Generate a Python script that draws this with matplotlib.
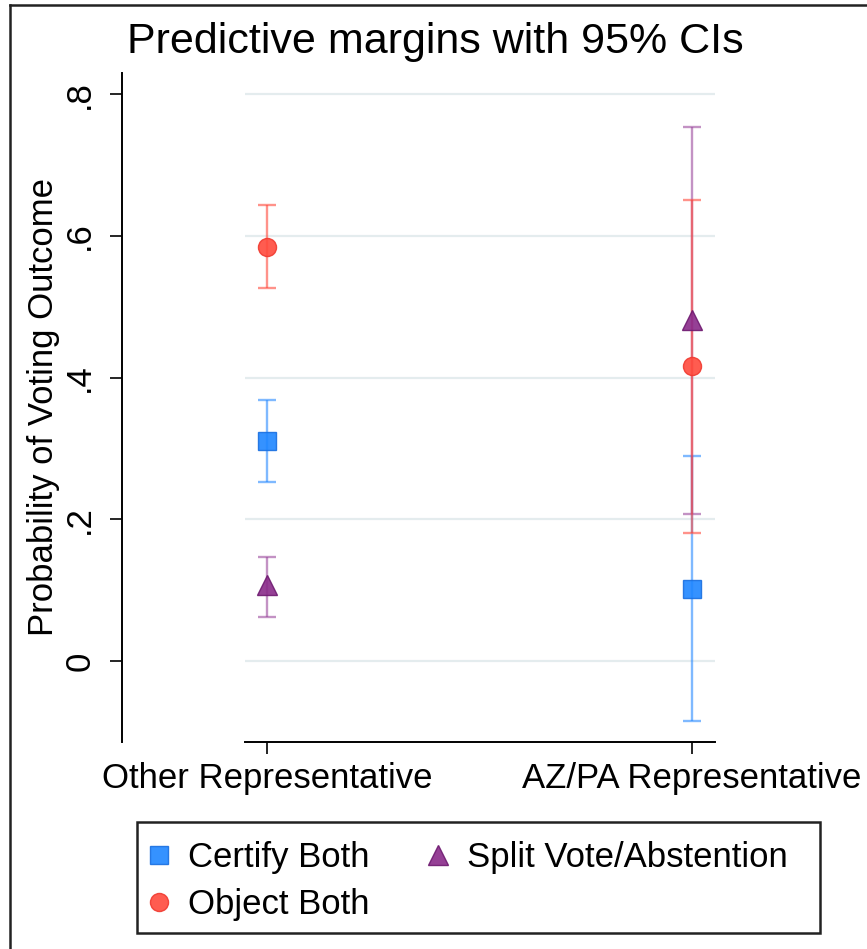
import numpy as np
import matplotlib.pyplot as plt
from matplotlib.lines import Line2D
from matplotlib.patches import Rectangle

plt.rcParams['font.family'] = ['Liberation Sans', 'DejaVu Sans']

# data
groups = ['Other Representative', 'AZ/PA Representative']
series = ['Certify Both', 'Object Both', 'Split Vote/Abstention']
certify = [0.311, 0.102]
certify_lo = [0.253, -0.084]
certify_hi = [0.368, 0.289]
obj = [0.585, 0.416]
obj_lo = [0.526, 0.180]
obj_hi = [0.643, 0.651]
split = [0.107, 0.482]
split_lo = [0.062, 0.208]
split_hi = [0.147, 0.754]
yticks = [0, 0.2, 0.4, 0.6, 0.8]
yticklabels = ['0', '.2', '.4', '.6', '.8']

W, H = 867, 949
fig = plt.figure(figsize=(W / 100, H / 100), dpi=100)
ax = fig.add_axes([245 / W, 1 - 742 / H, 470 / W, 669 / H])

x = np.arange(len(groups))
styles = [
    (certify, certify_lo, certify_hi, 's', '#1f86ff', '#1a6fe0', '#2a8bff', 13),
    (split, split_lo, split_hi, '^', '#8a2b8a', '#6e1a70', '#9b4a9e', 14),
    (obj, obj_lo, obj_hi, 'o', '#ff4a3d', '#f03a30', '#ff4a3d', 13),
]
handles = {}
for vals, lo, hi, mk, fc, ec, lc, ms in styles:
    vals = np.array(vals)
    err = [vals - np.array(lo), np.array(hi) - vals]
    ax.errorbar(x, vals, yerr=err, fmt='none', ecolor=lc, alpha=0.6,
                elinewidth=1.7, capsize=6.5, capthick=1.7, zorder=3)
for vals, lo, hi, mk, fc, ec, lc, ms in styles:
    h, = ax.plot(x, vals, linestyle='none', marker=mk, markersize=ms,
                 markerfacecolor=fc, markeredgecolor=ec, markeredgewidth=1.0,
                 alpha=0.9, zorder=4)
    handles[mk] = h

ax.set_xlim(-0.052, 1.054)
ax.set_ylim(-0.1143, 0.830)
ax.set_yticks(yticks)
ax.set_yticklabels(yticklabels)
ax.set_xticks(x)
ax.set_xticklabels(groups)
ax.grid(axis='y', color='#e4ecee', linewidth=1.6)
ax.set_axisbelow(True)

for s in ['top', 'right']:
    ax.spines[s].set_visible(False)
ax.spines['left'].set_position(('outward', 123 * 0.72))
ax.spines['left'].set_linewidth(1.4)
ax.spines['bottom'].set_linewidth(1.4)
ax.tick_params(axis='y', length=8.5, width=1.2, labelsize=25, pad=10, labelrotation=90)
ax.tick_params(axis='x', length=8.5, width=1.2, labelsize=25, pad=6)
for lab in ax.get_yticklabels():
    lab.set_va('center')

fig.text(435 / W, 1 - 42 / H, 'Predictive margins with 95% CIs',
         ha='center', va='center', fontsize=31)
fig.text(44 / W, 1 - 407 / H, 'Probability of Voting Outcome',
         rotation=90, ha='center', va='center', fontsize=25)

# legend box
fig.add_artist(Rectangle((137 / W, 1 - 933 / H), (820 - 137) / W, (933 - 822) / H,
                         transform=fig.transFigure, fill=False,
                         edgecolor='#222222', linewidth=1.8))
leg = fig.legend([handles['s'], handles['o'], handles['^']],
                 ['Certify Both', 'Object Both', 'Split Vote/Abstention'],
                 ncol=2, frameon=False, fontsize=25, loc='upper left',
                 bbox_to_anchor=(137 / W, 1 - 833 / H),
                 borderpad=0.23, handlelength=0.8, handletextpad=0.44,
                 columnspacing=1.56, labelspacing=0.4, borderaxespad=0)

# outer frame edges
fig.add_artist(Line2D([10 / W, 1], [1 - 5 / H, 1 - 5 / H], transform=fig.transFigure,
                      color='#222222', linewidth=1.8))
fig.add_artist(Line2D([10 / W, 10 / W], [0, 1 - 5 / H], transform=fig.transFigure,
                      color='#222222', linewidth=1.8))

fig.savefig('out.png', dpi=100)
